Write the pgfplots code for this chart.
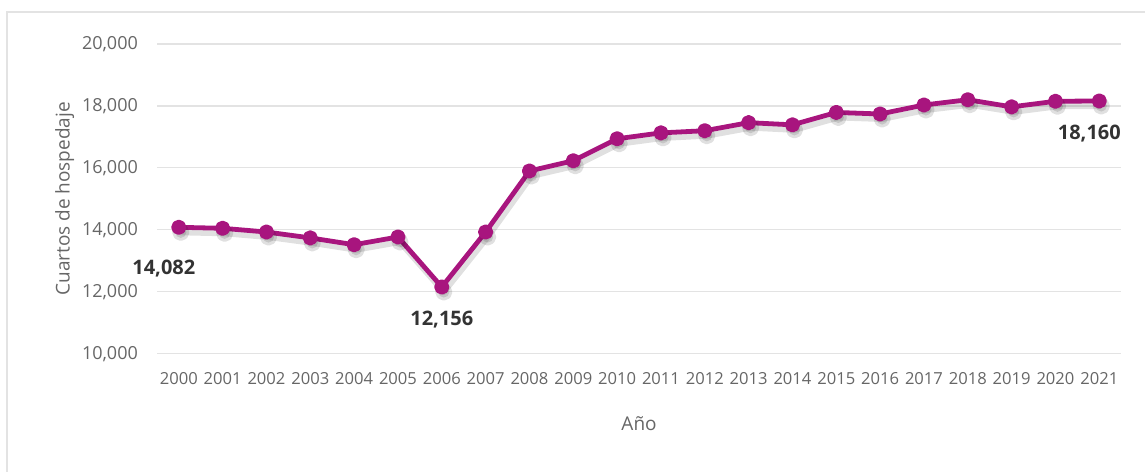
\documentclass[border=0pt]{standalone}
\usepackage{fontspec}
\setmainfont{Open Sans}
\usepackage{pgfplots}
\pgfplotsset{compat=1.18}
\definecolor{linea}{HTML}{A8157E}
\definecolor{texto}{HTML}{666666}
\definecolor{rejilla}{HTML}{E3E3E3}
\pgfplotstableread{
x y
0 14082
1 14050
2 13930
3 13740
4 13520
5 13770
6 12156
7 13930
8 15900
9 16230
10 16940
11 17130
12 17200
13 17460
14 17390
15 17790
16 17740
17 18030
18 18200
19 17970
20 18150
21 18160
}\datos
\begin{document}
\begin{tikzpicture}
\begin{axis}[
    scale only axis,
    width=482.5pt, height=155pt,
    xmin=-0.5, xmax=21.5,
    ymin=10000, ymax=20000,
    ytick={10000,12000,...,20000},
    scaled y ticks=false,
    yticklabel={\pgfmathprintnumber[fixed,precision=0,1000 sep={,}]{\tick}},
    xtick={0,...,21},
    xticklabels={2000,2001,2002,2003,2004,2005,2006,2007,2008,2009,2010,2011,2012,2013,2014,2015,2016,2017,2018,2019,2020,2021},
    axis line style={draw=none},
    major tick length=0pt,
    ymajorgrids,
    grid style={rejilla, line width=0.6pt},
    yticklabel style={font=\fontsize{9}{10}\selectfont, text=texto, xshift=-6pt},
    xticklabel style={font=\fontsize{8.3}{10}\selectfont, text=texto, yshift=-6pt},
    /pgf/number format/assume math mode=true,
    ylabel={Cuartos de hospedaje},
    xlabel={Año},
    label style={font=\fontsize{9.5}{11}\selectfont, text=texto},
    ylabel style={yshift=-3pt},
    xlabel style={yshift=-9pt},
    clip=false,
]
\addplot[black, opacity=0.12, line width=3pt, line join=round, yshift=-2.5pt, xshift=1pt,
         mark=*, mark size=2.8pt, mark options={fill=black, draw=none}] table[x=x, y=y] {\datos};
\addplot[color=linea, line width=2.4pt, line join=round, mark=*, mark size=2.6pt,
         mark options={fill=linea, draw=linea}] table[x=x, y=y] {\datos};
\node[font=\bfseries\fontsize{10}{12}\selectfont, text=black!80] at (axis cs:0,14082) [xshift=-7.5pt, yshift=-20.5pt] {14,082};
\node[font=\bfseries\fontsize{10}{12}\selectfont, text=black!80] at (axis cs:6,12156) [yshift=-16.5pt] {12,156};
\node[font=\bfseries\fontsize{10}{12}\selectfont, text=black!80] at (axis cs:21,18160) [xshift=-5pt, yshift=-16.5pt] {18,160};
\coordinate (o) at (rel axis cs:0,0);
\end{axis}
\draw[rejilla, line width=0.8pt] ([shift={(-75pt,-59pt)}]o) -- ([shift={(-75pt,171pt)}]o) -- ([shift={(494.5pt,171pt)}]o);
\path ([shift={(-78.5pt,-59pt)}]o) rectangle ([shift={(494.5pt,177pt)}]o);
\end{tikzpicture}
\end{document}
